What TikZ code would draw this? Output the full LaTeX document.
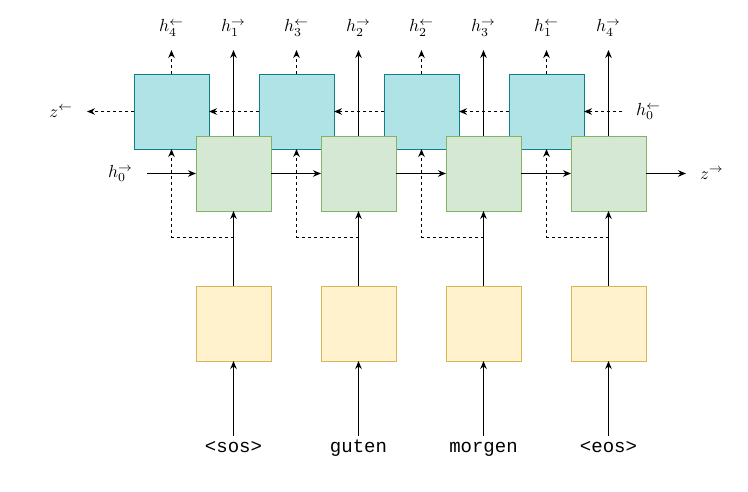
\documentclass[tikz,border=0pt]{standalone}
\usepackage{fontspec}
\setmonofont{Liberation Mono}
\usepackage{graphicx}
\usepackage{tikz}
\usetikzlibrary{positioning,arrows.meta}

\definecolor{fwdfill}{HTML}{D5E8D4}
\definecolor{fwdline}{HTML}{82B366}
\definecolor{bwdfill}{HTML}{B0E3E6}
\definecolor{bwdline}{HTML}{0E8088}
\definecolor{embfill}{HTML}{FFF2CC}
\definecolor{embline}{HTML}{D6B656}

\newcommand{\statelbl}[1]{\scalebox{1.75}{$#1$}}

\tikzset{
  cell/.style = {draw, line width=1pt, minimum size=75pt, inner sep=0pt, outer sep=0pt},
  fwd/.style = {cell, fill=fwdfill, draw=fwdline},
  bwd/.style = {cell, fill=bwdfill, draw=bwdline},
  emb/.style = {cell, fill=embfill, draw=embline},
  tok/.style = {font=\ttfamily\fontsize{19pt}{22pt}\selectfont, text height=14pt, text depth=4pt, inner sep=2pt, outer sep=0pt},
  toplbl/.style = {inner xsep=0pt, inner ysep=14pt, outer sep=0pt},
  sidelbl/.style = {inner xsep=14pt, inner ysep=2pt, outer sep=0pt},
  arr/.style = {-{Stealth[length=8pt, width=6.5pt]}, line width=1pt},
  dsh/.style = {arr, dash pattern=on 3pt off 3pt},
}

\begin{document}
\begin{tikzpicture}[x=1pt, y=1pt]
    \useasboundingbox (0,0) rectangle (748,-491);

    % backward cells
    \node[bwd] (b1) at (171.5,-111.5) {};
    \node[bwd, right = 50pt of b1] (b2) {};
    \node[bwd, right = 50pt of b2] (b3) {};
    \node[bwd, right = 50pt of b3] (b4) {};

    % forward cells
    \node[fwd] (f1) at (233.5,-173.5) {};
    \node[fwd, right = 50pt of f1] (f2) {};
    \node[fwd, right = 50pt of f2] (f3) {};
    \node[fwd, right = 50pt of f3] (f4) {};

    % embeddings
    \node[emb, below = 75pt of f1] (e1) {};
    \node[emb, below = 75pt of f2] (e2) {};
    \node[emb, below = 75pt of f3] (e3) {};
    \node[emb, below = 75pt of f4] (e4) {};

    % tokens
    \node[tok, below = 75pt of e1] (t1) {<sos>};
    \node[tok, below = 75pt of e2] (t2) {guten};
    \node[tok, below = 75pt of e3] (t3) {morgen};
    \node[tok, below = 75pt of e4] (t4) {<eos>};

    % outputs
    \node[toplbl, above = 86pt of f1] (hf1) {\statelbl{h_1^{\rightarrow}}};
    \node[toplbl, above = 86pt of f2] (hf2) {\statelbl{h_2^{\rightarrow}}};
    \node[toplbl, above = 86pt of f3] (hf3) {\statelbl{h_3^{\rightarrow}}};
    \node[toplbl, above = 86pt of f4] (hf4) {\statelbl{h_4^{\rightarrow}}};
    \node[toplbl, above = 24pt of b1] (hb1) {\statelbl{h_4^{\leftarrow}}};
    \node[toplbl, above = 24pt of b2] (hb2) {\statelbl{h_3^{\leftarrow}}};
    \node[toplbl, above = 24pt of b3] (hb3) {\statelbl{h_2^{\leftarrow}}};
    \node[toplbl, above = 24pt of b4] (hb4) {\statelbl{h_1^{\leftarrow}}};

    % initial and final states
    \node[sidelbl, left = 49pt of f1] (h0f) {\statelbl{h_0^{\rightarrow}}};
    \node[sidelbl, right = 40pt of f4] (zf) {\statelbl{z^{\rightarrow}}};
    \node[sidelbl, right = 38pt of b4] (h0b) {\statelbl{h_0^{\leftarrow}}};
    \node[sidelbl, left = 47pt of b1] (zb) {\statelbl{z^{\leftarrow}}};

    % split points below the forward cells
    \coordinate[below = 26pt of f1] (d1);
    \coordinate[below = 26pt of f2] (d2);
    \coordinate[below = 26pt of f3] (d3);
    \coordinate[below = 26pt of f4] (d4);

    % tokens to embeddings to cells
    \draw[arr] (t1) -- (e1);
    \draw[arr] (t2) -- (e2);
    \draw[arr] (t3) -- (e3);
    \draw[arr] (t4) -- (e4);
    \draw[arr] (e1) -- (f1);
    \draw[arr] (e2) -- (f2);
    \draw[arr] (e3) -- (f3);
    \draw[arr] (e4) -- (f4);
    \draw[dsh] (d1) -| (b1);
    \draw[dsh] (d2) -| (b2);
    \draw[dsh] (d3) -| (b3);
    \draw[dsh] (d4) -| (b4);

    % forward chain
    \draw[arr] (h0f) -- (f1);
    \draw[arr] (f1) -- (f2);
    \draw[arr] (f2) -- (f3);
    \draw[arr] (f3) -- (f4);
    \draw[arr] (f4) -- (zf);

    % backward chain
    \draw[dsh] (h0b) -- (b4);
    \draw[dsh] (b4) -- (b3);
    \draw[dsh] (b3) -- (b2);
    \draw[dsh] (b2) -- (b1);
    \draw[dsh] (b1) -- (zb);

    % outputs
    \draw[arr] (f1) -- (hf1);
    \draw[arr] (f2) -- (hf2);
    \draw[arr] (f3) -- (hf3);
    \draw[arr] (f4) -- (hf4);
    \draw[dsh] (b1) -- (hb1);
    \draw[dsh] (b2) -- (hb2);
    \draw[dsh] (b3) -- (hb3);
    \draw[dsh] (b4) -- (hb4);
\end{tikzpicture}
\end{document}
